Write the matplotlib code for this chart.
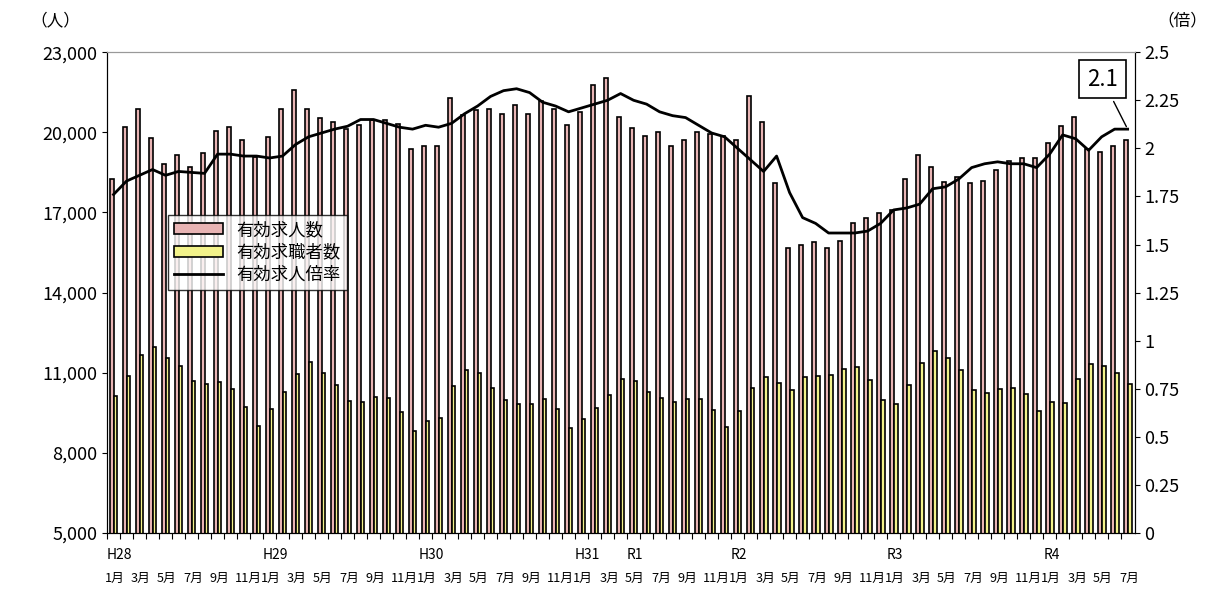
import matplotlib
matplotlib.use("Agg")
import matplotlib.pyplot as plt
import numpy as np

plt.rcParams['font.family'] = ['Noto Sans CJK JP', 'DejaVu Sans']

openings = [18270,20200,20890,19770,18810,19150,18690,19230,20050,20200,19710,19060,
            19810,20890,21600,20890,20540,20390,20110,20260,20480,20480,20310,19360,
            19480,19480,21290,20640,20830,20890,20670,21010,20700,21170,20890,20290,
            20770,21790,22020,20590,20170,19880,20010,19470,19730,20010,19920,19870,
            19720,21370,20370,18120,15680,15800,15880,15670,15920,16590,16800,16990,
            17090,18260,19160,18690,18150,18310,18090,18170,18580,18930,19030,19030,
            19610,20230,20590,19360,19250,19480,19710]
seekers = [10130,10890,11660,11950,11570,11240,10710,10580,10650,10400,9730,9020,
           9630,10290,10960,11410,10980,10540,9950,9900,10100,10070,9530,8820,
           9190,9290,10500,11110,11000,10440,9970,9840,9820,10030,9630,8920,
           9270,9700,10170,10750,10690,10290,10070,9890,10030,10020,9620,8980,
           9580,10420,10830,10630,10350,10850,10880,10910,11150,11200,10740,9980,
           9850,10550,11380,11820,11540,11100,10340,10230,10390,10440,10190,9570,
           9900,9880,10750,11330,11250,11000,10580]
ratio = [1.76,1.83,1.86,1.89,1.86,1.88,1.875,1.87,1.97,1.97,1.96,1.96,
         1.95,1.96,2.02,2.06,2.08,2.10,2.115,2.15,2.15,2.13,2.11,2.10,
         2.12,2.11,2.13,2.18,2.22,2.27,2.30,2.31,2.29,2.24,2.22,2.19,
         2.21,2.23,2.25,2.285,2.25,2.23,2.19,2.17,2.16,2.12,2.08,2.06,
         2.00,1.94,1.88,1.96,1.77,1.64,1.61,1.56,1.56,1.56,1.57,1.61,
         1.68,1.69,1.71,1.79,1.80,1.84,1.90,1.92,1.93,1.92,1.92,1.90,
         1.97,2.07,2.05,1.99,2.06,2.10,2.10]
year_labels = {0:'H28', 12:'H29', 24:'H30', 36:'H31', 40:'R1', 48:'R2', 60:'R3', 72:'R4'}
month_names = ['1月','3月','5月','7月','9月','11月']

n = len(openings)
x = np.arange(n)

fig = plt.figure(figsize=(12.12, 5.93), dpi=100)
ax = fig.add_axes([0.0883, 0.101, 0.848, 0.811])
ax2 = ax.twinx()

b1 = ax.bar(x, openings, width=0.3, color='#e8b4b4', edgecolor='black', linewidth=1.2, label='有効求人数')
b2 = ax.bar(x + 0.3, seekers, width=0.3, color='#f2f28a', edgecolor='black', linewidth=1.2, label='有効求職者数')
l1, = ax2.plot(x + 0.15, ratio, color='black', lw=2, label='有効求人倍率')

ax.set_ylim(5000, 23000)
ax2.set_ylim(0, 2.5)
ax.set_xlim(-0.3, n - 0.3)
ax.set_yticks(range(5000, 23001, 3000))
ax.set_yticklabels([f'{v:,}' for v in range(5000, 23001, 3000)], fontsize=13)
r_ticks = np.arange(0, 2.51, 0.25)
ax2.set_yticks(r_ticks)
ax2.set_yticklabels([f'{v:g}' for v in r_ticks], fontsize=13)
ax.set_xticks(x - 0.35, minor=False)
ax.set_xticklabels([])
ax.tick_params(axis='x', length=4)

ax.spines['top'].set_color('#999999'); ax2.spines['top'].set_color('#999999')

for i in range(n):
    if i in year_labels:
        ax.text(i - 0.35, -0.03, year_labels[i], transform=ax.get_xaxis_transform(),
                ha='left', va='top', fontsize=10)
    if i % 2 == 0:
        ax.text(i - 0.5, -0.08, month_names[(i % 12) // 2], transform=ax.get_xaxis_transform(),
                ha='left', va='top', fontsize=9.2)

fig.text(0.025, 0.965, '（人）', fontsize=12, ha='left', va='center')
fig.text(0.955, 0.965, '（倍）', fontsize=12, ha='left', va='center')

leg = ax.legend(handles=[b1, b2, l1], loc='upper left', bbox_to_anchor=(0.051, 0.68),
                fontsize=12.5, frameon=True, fancybox=False, edgecolor='black',
                handlelength=2.8, borderpad=0.35, labelspacing=0.25, handleheight=0.6)
leg.get_frame().set_linewidth(1)

ax2.annotate('2.1', xy=(x[-1] + 0.15, ratio[-1]), xytext=(76.2, 2.36),
             fontsize=16, ha='center', va='center',
             bbox=dict(boxstyle='square,pad=0.35', fc='white', ec='black', lw=1.2),
             arrowprops=dict(arrowstyle='-', color='black', lw=1))

fig.savefig('out.png', dpi=100)
